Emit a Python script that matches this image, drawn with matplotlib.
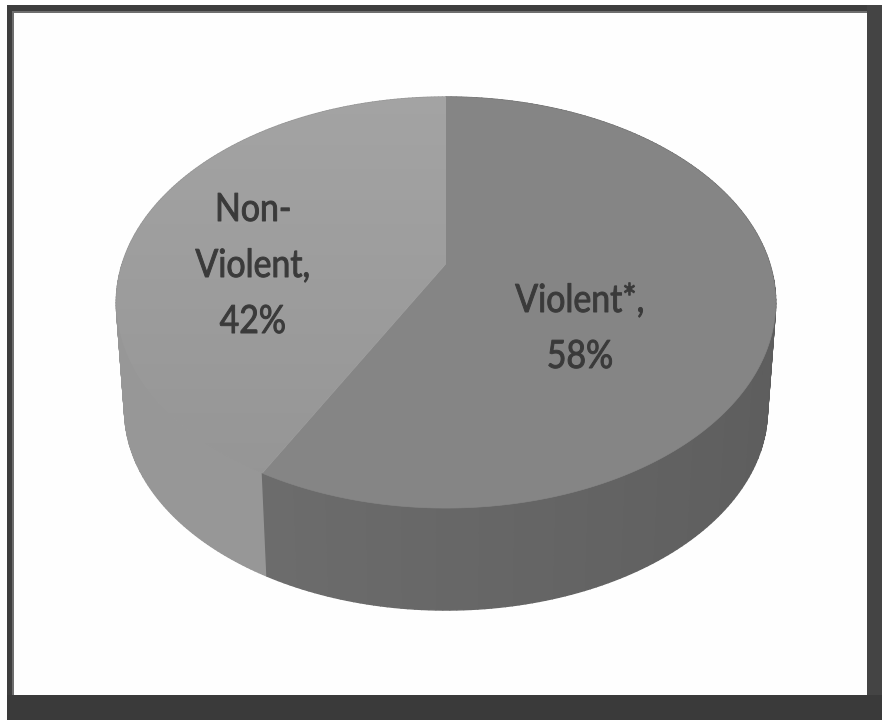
import numpy as np
import matplotlib
matplotlib.use("Agg")
import matplotlib.pyplot as plt
from matplotlib.patches import Polygon, Rectangle
from matplotlib.patheffects import AbstractPathEffect
from matplotlib.transforms import Affine2D

# slices in clockwise order from 12 o'clock
categories = ["Violent*", "Non-\nViolent"]
shares = [58, 42]
top_color = "#858585"
left_top_grey = (0.64, 0.585)
left_side_color = "#979797"
text_color = "#3a3a3a"

CX, APEX_X, APEX_Y, MID_Y = 446, 446, 264, 268
A, C, R = -154.7, 0.168, 325
DEPTH, SHRINK = 108, 0.975


def rim(theta, k=1.0, dy=0.0):
    # perspective projection of the unit circle onto the picture
    u, v = np.sin(theta), np.cos(theta)
    x = CX + k * R * u / (1 + C * v)
    y = MID_Y + dy + k * ((A * v + MID_Y) / (1 + C * v) - MID_Y)
    return x, y


class Squeeze(AbstractPathEffect):
    # Lato is wider than the Calibri in the picture, narrow each line about its middle
    def __init__(self, sx):
        super().__init__()
        self.sx = sx

    def draw_path(self, renderer, gc, tpath, affine, rgbFace=None):
        box = tpath.get_extents()
        mid = (box.x0 + box.x1) / 2
        squeeze = Affine2D().translate(-mid, 0).scale(self.sx, 1).translate(mid, 0)
        gc0 = renderer.new_gc()
        gc0.copy_properties(gc)
        gc0.set_foreground(rgbFace)
        gc0.set_linewidth(0.7)
        renderer.draw_path(gc0, tpath, squeeze + affine, rgbFace)
        gc0.restore()


fig = plt.figure(figsize=(8.82, 7.2), dpi=100)
ax = fig.add_axes([0, 0, 1, 1])
ax.axis("off")

# screenshot frame
ax.add_patch(Rectangle((7, 5), 875, 715, color="#6e6e6e", lw=0))
ax.add_patch(Rectangle((7, 5), 875, 6, color="#3e3e3e", lw=0))
ax.add_patch(Rectangle((7, 5), 5, 715, color="#3e3e3e", lw=0))
ax.add_patch(Rectangle((14, 13), 853, 682, color="#fefefe", lw=0))
ax.add_patch(Rectangle((867, 5), 15, 715, color="#444444", lw=0))
ax.add_patch(Rectangle((7, 695), 875, 25, color="#3a3a3a", lw=0))

edges = np.cumsum([0] + shares) / sum(shares) * 2 * np.pi

# sides first, left slice behind the right one
for i in [1, 0]:
    t = np.linspace(edges[i], edges[i + 1], 200)
    xt, yt = rim(t)
    xb, yb = rim(t, SHRINK, DEPTH)
    for j in range(len(t) - 1):
        if i == 0:
            # right side gets darker towards the far end
            g = 0.425 - 0.06 * (np.sin(t[j]) + 0.48) / 1.48
            c = (g, g, g)
        else:
            c = left_side_color
        ax.fill([xt[j], xt[j + 1], xb[j + 1], xb[j]],
                [yt[j], yt[j + 1], yb[j + 1], yb[j]],
                color=c, lw=1.0)

# top faces
t = np.linspace(edges[0], edges[1], 200)
x, y = rim(t)
ax.fill(np.r_[APEX_X, x], np.r_[APEX_Y, y], color=top_color, lw=0.5)

t = np.linspace(edges[1], edges[2], 200)
x, y = rim(t)
left_top = Polygon(np.c_[np.r_[APEX_X, x], np.r_[APEX_Y, y]], closed=True,
                   transform=ax.transData, fc="none", lw=0)
ax.add_patch(left_top)
shade = ax.imshow(np.linspace(*left_top_grey, 64)[:, None], cmap="gray", vmin=0, vmax=1,
                  extent=(100, 460, 480, 90), aspect="auto", zorder=2)
shade.set_clip_path(left_top)

ax.set_xlim(0, 882)
ax.set_ylim(720, 0)

labels = [f"{c},\n{s}%" for c, s in zip(categories, shares)]
for px, py, label in [(580, 329, labels[0]), (253, 266, labels[1])]:
    ax.text(px, py, label, ha="center", va="center", fontsize=28, family="Lato",
            color=text_color, linespacing=1.69, zorder=3,
            path_effects=[Squeeze(0.87)])

fig.savefig("out.png", dpi=100)
